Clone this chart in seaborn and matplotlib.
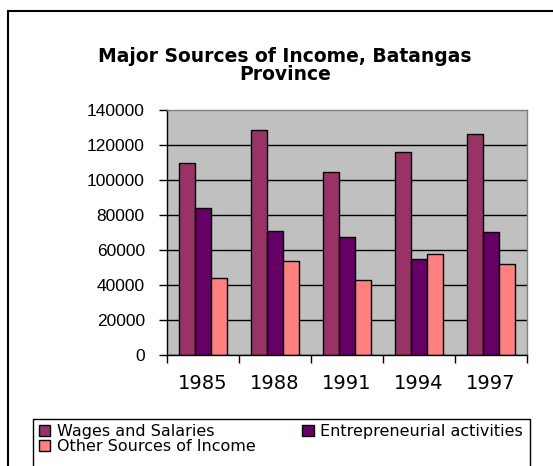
import pandas as pd
import matplotlib.pyplot as plt
import seaborn as sns
from matplotlib.patches import Rectangle

# data
years = ['1985', '1988', '1991', '1994', '1997']
sources = ['Wages and Salaries', 'Entrepreneurial activities', 'Other Sources of Income']
wages = [110000, 128500, 104300, 116000, 126300]
entrepreneurial = [84200, 71100, 67300, 54800, 70400]
other = [43800, 53500, 43100, 57700, 51800]
colors = ['#993366', '#660066', '#FF8080']

df = pd.DataFrame({
    'year': years * 3,
    'source': [sources[0]] * 5 + [sources[1]] * 5 + [sources[2]] * 5,
    'value': wages + entrepreneurial + other,
})

sns.set_style('white')
plt.rcParams['font.family'] = ['Liberation Sans', 'DejaVu Sans']
plt.rcParams['text.color'] = 'black'
plt.rcParams['xtick.color'] = 'black'
plt.rcParams['ytick.color'] = 'black'

fig = plt.figure(figsize=(5.53, 4.66), dpi=100)
ax = fig.add_axes([167 / 553, 1 - 355 / 466, 360 / 553, 245 / 466])

sns.barplot(data=df, x='year', y='value', hue='source', palette=colors,
            edgecolor='black', linewidth=1, width=0.667, gap=0, ax=ax,
            saturation=1, errorbar=None)

handles, labels = ax.get_legend_handles_labels()
ax.get_legend().remove()

# plot area look (grey fill, black gridlines)
ax.set_facecolor('#C0C0C0')
ax.set_ylim(0, 140000)
ax.set_yticks(range(0, 140001, 20000))
ax.set_xlim(-0.5, 4.5)
ax.yaxis.grid(True, color='black', lw=1)
ax.get_ygridlines()[-1].set_visible(False)
ax.set_axisbelow(True)
ax.set_xlabel('')
ax.set_ylabel('')

for side in ['left', 'bottom']:
    ax.spines[side].set_color('black')
    ax.spines[side].set_linewidth(1)
for side in ['top', 'right']:
    ax.spines[side].set_color('#808080')
    ax.spines[side].set_linewidth(1)

ax.tick_params(axis='y', labelsize=12.5, length=6, width=1, color='black', pad=10, left=True)
ax.tick_params(axis='x', which='major', length=0, pad=14)
for lab in ax.get_xticklabels():
    lab.set_fontfamily('DejaVu Sans')
    lab.set_fontsize(14)
ax.set_xticks([i - 0.5 for i in range(6)], minor=True)
ax.tick_params(axis='x', which='minor', length=5.5, width=1, color='black', bottom=True)

# title
fig.text(285 / 553, 1 - 57 / 466, 'Major Sources of Income, Batangas',
         ha='center', va='center', fontsize=13.5, fontweight='bold',
         family='DejaVu Sans')
fig.text(285 / 553, 1 - 75 / 466, 'Province',
         ha='center', va='center', fontsize=13.5, fontweight='bold',
         family='DejaVu Sans')

# legend at the bottom, row-major order; box drawn separately (runs off the bottom)
order = [0, 2, 1]
leg = fig.legend([handles[i] for i in order], [labels[i] for i in order],
                 loc='upper left', ncol=2, mode='expand',
                 bbox_to_anchor=(36 / 553, 0, 490 / 553, 1 - 421 / 466),
                 prop={'family': 'DejaVu Sans', 'size': 11.5},
                 frameon=False, borderaxespad=0,
                 handlelength=0.7, handleheight=0.6, handletextpad=0.4,
                 labelspacing=0.0, borderpad=0.2)
for h in leg.legend_handles:
    h.set_edgecolor('black')
    h.set_linewidth(1)
fig.patches.append(Rectangle((33 / 553, -0.1), 497 / 553, 0.1 + 1 - 419 / 466,
                             transform=fig.transFigure, fill=False,
                             edgecolor='black', lw=1))

# outer chart border
fig.patches.append(Rectangle((8 / 553, -0.2), 0.99, 1.2 - 11 / 466,
                             transform=fig.transFigure, fill=False,
                             edgecolor='black', lw=1.5))

fig.savefig('out.png', dpi=100)
